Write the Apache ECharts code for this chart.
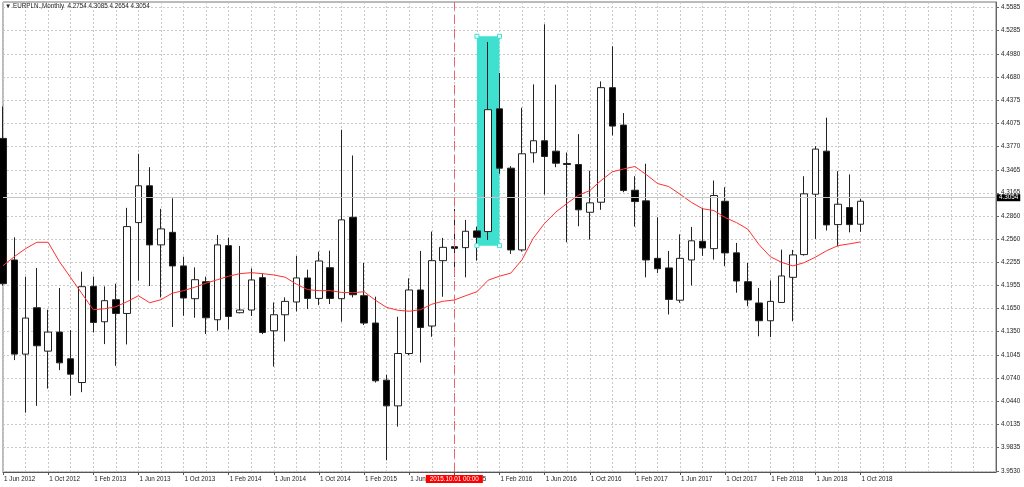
<!DOCTYPE html>
<html><head><meta charset="utf-8">
<script src="https://cdn.jsdelivr.net/npm/echarts@6/dist/echarts.min.js"></script>
<style>html,body{margin:0;padding:0;background:#fff}#c{width:1024px;height:487px}</style>
</head><body><div id="c"></div>
<script>
const symbolName = 'EURPLN.,Monthly';
const monthNames = ['Jan','Feb','Mar','Apr','May','Jun','Jul','Aug','Sep','Oct','Nov','Dec'];
const startYear = 2012, startMonth = 5, totalSlots = 89;
const categories = [];
for (let k = 0; k < totalSlots; k++) {
  const m = (startMonth + k) % 12, y = startYear + Math.floor((startMonth + k) / 12);
  categories.push('1 ' + monthNames[m] + ' ' + y);
}

const opens = [4.3875,4.2287,4.1057,4.1663,4.1096,4.1345,4.0996,4.0686,4.1942,4.1480,
  4.1768,4.1588,4.2775,4.3256,4.2484,4.2648,4.2209,4.1781,4.2003,4.1506,
  4.2474,4.1598,4.1633,4.2056,4.1362,4.1571,4.1738,4.2052,4.1785,4.2186,
  4.1781,4.2845,4.1820,4.1463,4.0717,4.0381,4.1065,4.1895,4.1424,4.2278,
  4.2461,4.2448,4.2667,4.2658,4.4261,4.3486,4.2418,4.3687,4.3844,4.3708,
  4.3547,4.3534,4.2910,4.3041,4.4538,4.4049,4.3198,4.3059,4.2308,4.2183,
  4.1761,4.2287,4.2531,4.2435,4.3054,4.2380,4.2003,4.1725,4.1493,4.1732,
  4.2060,4.2357,4.3146,4.3708,4.2749,4.2972,4.2754];
const highs = [4.4293,4.2583,4.2069,4.2183,4.1637,4.1921,4.1371,4.2134,4.2069,4.1942,
  4.1977,4.2968,4.3674,4.3499,4.2955,4.3093,4.2330,4.2190,4.2069,4.2614,
  4.2579,4.2470,4.2177,4.2112,4.1732,4.1798,4.2340,4.2160,4.2396,4.2409,
  4.3988,4.3652,4.2248,4.1807,4.0786,4.1545,4.2047,4.2405,4.2658,4.2575,
  4.2955,4.2811,4.2723,4.5135,4.4729,4.3512,4.4276,4.4581,4.5366,4.4577,
  4.3691,4.3931,4.3452,4.4620,4.5079,4.4206,4.3381,4.3544,4.2845,4.2405,
  4.2622,4.2719,4.2963,4.3325,4.3237,4.2510,4.2248,4.1922,4.2020,4.2422,
  4.2418,4.3381,4.3774,4.4146,4.3447,4.3404,4.3085];
const lows = [4.1951,4.0979,4.0293,4.0381,4.0607,4.0848,4.0515,4.0560,4.1340,4.1188,
  4.0904,4.1183,4.2016,4.1947,4.1798,4.1411,4.1558,4.1532,4.1319,4.1362,
  4.1379,4.1590,4.1554,4.1319,4.0895,4.1222,4.1615,4.1646,4.1698,4.1711,
  4.1480,4.1798,4.1437,4.0686,3.9670,4.0110,4.1044,4.0947,4.1284,4.1807,
  4.2069,4.2060,4.2278,4.2549,4.3413,4.2366,4.2396,4.3557,4.3142,4.3499,
  4.2518,4.2727,4.2553,4.2942,4.3914,4.3172,4.2723,4.2060,4.2117,4.1575,
  4.1728,4.1955,4.2340,4.2291,4.2206,4.1859,4.1683,4.1290,4.1280,4.1725,
  4.1486,4.2344,4.2562,4.2671,4.2465,4.2648,4.2654];
const closes = [4.1977,4.1057,4.1528,4.1166,4.1345,4.0943,4.0795,4.1938,4.1471,4.1755,
  4.1588,4.2723,4.3256,4.2484,4.2693,4.2209,4.1790,4.2029,4.1532,4.2484,
  4.1549,4.1633,4.2026,4.1340,4.1571,4.1746,4.2052,4.1785,4.2274,4.1785,
  4.2811,4.1833,4.1463,4.0708,4.0381,4.1065,4.1895,4.1405,4.2278,4.2452,
  4.2439,4.2662,4.2583,4.4250,4.3486,4.2418,4.3674,4.3844,4.3639,4.3551,
  4.3534,4.2942,4.3033,4.4538,4.4036,4.3194,4.3050,4.2287,4.2173,4.1772,
  4.2308,4.2537,4.2444,4.3129,4.2379,4.2012,4.1764,4.1493,4.1746,4.2078,
  4.2353,4.3151,4.3735,4.2745,4.3015,4.2749,4.3054];
const maValues = [4.2213,4.2330,4.2435,4.2518,4.2518,4.2265,4.2056,4.1846,4.1637,4.1650,
  4.1676,4.1742,4.1820,4.1728,4.1768,4.1853,4.1886,4.1931,4.1984,4.2029,
  4.2075,4.2108,4.2121,4.2108,4.2091,4.2062,4.1971,4.1899,4.1886,4.1886,
  4.1863,4.1859,4.1872,4.1761,4.1667,4.1630,4.1617,4.1637,4.1709,4.1748,
  4.1764,4.1820,4.1872,4.2023,4.2075,4.2115,4.2291,4.2573,4.2766,4.2913,
  4.3028,4.3133,4.3194,4.3325,4.3439,4.3476,4.3508,4.3404,4.3286,4.3246,
  4.3146,4.3040,4.2956,4.2932,4.2841,4.2775,4.2690,4.2487,4.2330,4.2256,
  4.2209,4.2252,4.2324,4.2409,4.2474,4.2497,4.2523];
const priceTicks = [3.9530,3.9835,4.0135,4.0440,4.0740,4.1045,4.1350,4.1650,4.1955,4.2255,
  4.2560,4.2860,4.3165,4.3465,4.3770,4.4075,4.4375,4.4680,4.4980,4.5285,4.5585];
const markerTime = '1 Oct 2015', markerLabel = '2015.10.01 00:00';
const boxStart = '1 Dec 2015', boxEnd = '1 Feb 2016', boxTop = 4.5209, boxBottom = 4.2474;

const FONT = 'Liberation Sans', FS = 6.3;
const last = closes.length - 1;
const candleData = opens.map((o, i) => [o, closes[i], lows[i], highs[i]]);
const showLab = (i) => i % 4 === 0 && i <= last;
const handle = { symbol: 'rect', symbolSize: 4, itemStyle: { color: '#e8fffc', borderColor: '#40e0d0', borderWidth: 1 }, label: { show: false } };

const chart = echarts.init(document.getElementById('c'), null, { renderer: 'canvas' });
chart.setOption({
  animation: false,
  backgroundColor: '#fff',
  title: {
    text: '\u25BC ' + symbolName + '  ' + [opens[last], highs[last], lows[last], closes[last]].map(v => v.toFixed(4)).join(' '),
    left: 5, top: 3, padding: 0,
    textStyle: { fontFamily: FONT, fontSize: FS, fontWeight: 'normal', color: '#222' }
  },
  grid: { left: 3, right: 28, top: 2, bottom: 15, show: true, borderColor: '#777', borderWidth: 1 },
  xAxis: {
    type: 'category', data: categories, boundaryGap: false,
    axisLine: { lineStyle: { color: '#555' } },
    axisTick: { interval: showLab, length: 3, lineStyle: { color: '#555' } },
    axisLabel: { interval: showLab, align: 'left', margin: 4, fontFamily: FONT, fontSize: FS, color: '#222', padding: [0, 0, 0, 1] },
    splitLine: { show: true, interval: (i) => i % 2 === 0, lineStyle: { color: '#c8c8c8', type: [2, 2], width: 1 } }
  },
  yAxis: {
    type: 'value', position: 'right', min: 3.9517, max: 4.5657,
    axisLine: { show: true, lineStyle: { color: '#666' } },
    axisTick: { show: true, length: 3, customValues: priceTicks, lineStyle: { color: '#666' } },
    axisLabel: { customValues: priceTicks, formatter: v => v.toFixed(4), margin: 5, fontFamily: FONT, fontSize: FS, color: '#222' },
    splitLine: { show: true, lineStyle: { color: '#c8c8c8', type: [2, 2], width: 1 } }
  },
  series: [
    {
      type: 'candlestick', data: candleData, barWidth: 7,
      itemStyle: { color: '#fff', color0: '#000', borderColor: '#222', borderColor0: '#222', borderWidth: 1 },
      markArea: {
        silent: true,
        itemStyle: { color: '#40e0d0', opacity: 1 },
        data: [[{ xAxis: boxStart, yAxis: boxTop }, { xAxis: boxEnd, yAxis: boxBottom }]]
      },
      markPoint: {
        silent: true,
        data: [
          Object.assign({ coord: [boxStart, boxTop] }, handle),
          Object.assign({ coord: [boxEnd, boxTop] }, handle),
          Object.assign({ coord: [boxStart, boxBottom] }, handle),
          Object.assign({ coord: [boxEnd, boxBottom] }, handle)
        ]
      },
      markLine: {
        silent: true, symbol: ['none', 'none'], animation: false,
        data: [
          { yAxis: closes[last], lineStyle: { color: '#c4c4c4', type: 'solid', width: 1 },
            label: { show: true, position: 'end', formatter: closes[last].toFixed(4), backgroundColor: '#000', color: '#fff', padding: [1, 2, 0, 2], fontFamily: FONT, fontSize: FS, distance: 1 } },
          { xAxis: markerTime, lineStyle: { color: '#f06464', type: [9, 5], width: 1 },
            label: { show: true, position: 'start', formatter: markerLabel, backgroundColor: '#ff0000', color: '#fff', padding: [1, 4, 1, 4], fontFamily: FONT, fontSize: FS, distance: 3 } }
        ]
      }
    },
    {
      type: 'line', data: maValues, symbol: 'none', smooth: false,
      lineStyle: { color: '#ff3030', width: 1 }, z: 3
    }
  ]
});
</script>
</body></html>
